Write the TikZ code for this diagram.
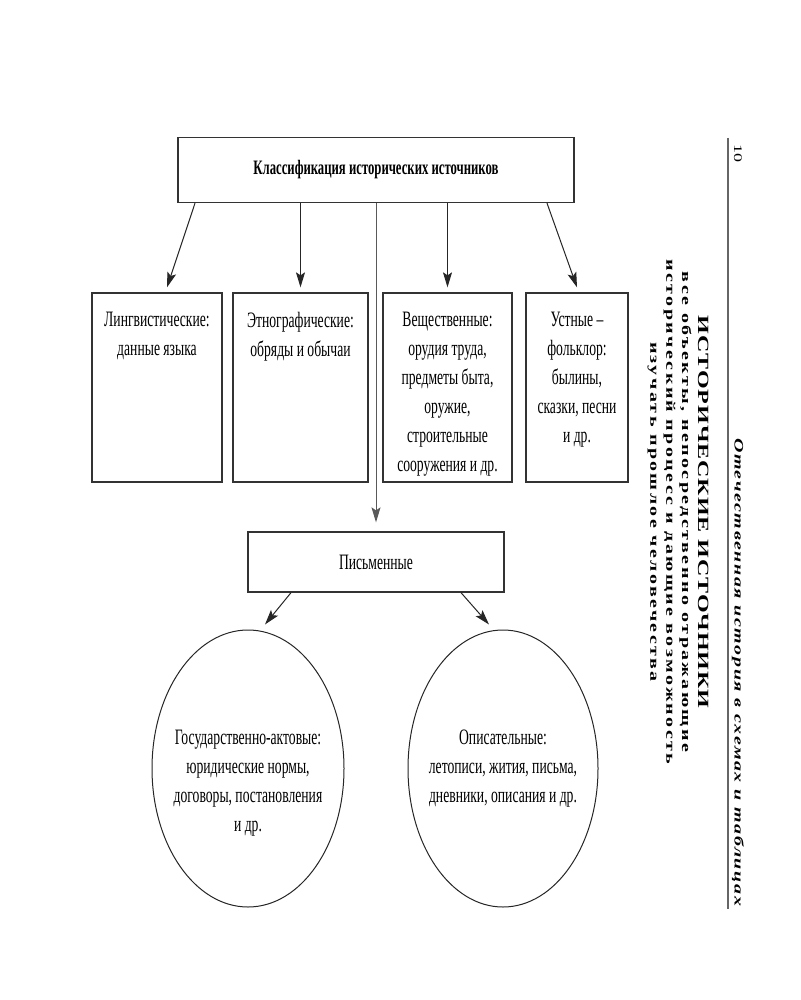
\documentclass[tikz,border=0pt]{standalone}
\usepackage{fontspec}
\setmainfont{Liberation Serif}[FakeStretch=0.62]
\newfontfamily\rotfont{Liberation Serif}
\newfontfamily\spacedfont{Liberation Serif}[LetterSpace=12]
\usetikzlibrary{arrows.meta,positioning,shapes.geometric}

\begin{document}
\begin{tikzpicture}[x=1pt,y=-1pt,>={Stealth[length=15pt,width=9pt,inset=3pt]},
  box/.style={rectangle,draw=black!80,line width=1.3pt,inner sep=0pt},
  src box/.style={box,minimum width=130pt,minimum height=189pt},
  src text/.style={align=center,inner sep=0pt,font=\fontsize{22}{29}\selectfont},
  oval/.style={ellipse,draw=black!85,line width=1pt,inner sep=0pt,
    minimum width=192pt,minimum height=277pt},
  link/.style={->,draw=black!85,line width=1pt},
  turned/.style={rotate=-90,yscale=0.65,inner sep=0pt}]

\fill[white] (0,0) rectangle (800,1000);

% running head of the page
\draw[black!60,line width=1.5pt] (728,138) -- (728,909);
\node[turned,font=\rotfont\fontsize{18}{18}\selectfont] (page) at (738,154) {10};
\node[turned,font=\spacedfont\bfseries\itshape\fontsize{20}{20}\selectfont\addfontfeature{LetterSpace=8}] (series) at (738,672)
  {Отечественная история в схемах и таблицах};
\node[turned,align=center,font=\spacedfont\bfseries\fontsize{20}{24.5}\selectfont] (head) at (678,512)
  {{\fontsize{24}{24.5}\selectfont\addfontfeature{LetterSpace=4}ИСТОРИЧЕСКИЕ ИСТОЧНИКИ}\\
   все объекты, непосредственно отражающие\\
   исторический процесс и дающие возможность\\
   изучать прошлое человечества};

% boxes
\node[box,minimum width=396pt,minimum height=65pt,font=\bfseries\fontsize{20.5}{29}\selectfont]
  (class) at (376,170) {Классификация исторических источников};
\node[src box] (ling) at (157,387.5) {};
\node[src box,minimum width=135pt] (ethno) at (300.5,387.5) {};
\node[src box,minimum width=129pt] (mat) at (447.5,387.5) {};
\node[src box,minimum width=102pt] (oral) at (577,387.5) {};
\node[box,minimum width=256pt,minimum height=60pt,font=\fontsize{22}{29}\selectfont]
  (pism) at (376,562) {Письменные};
\node[oval] (gov) at (248,768.5) {};
\node[oval,minimum width=190pt] (desc) at (503,768.5) {};

\node[src text,below=20pt of ling.north] {Лингвистические:\\данные языка};
\node[src text,below=20pt of ethno.north] {Этнографические:\\обряды и обычаи};
\node[src text,below=20pt of mat.north] {Вещественные:\\орудия труда,\\предметы быта,\\оружие,\\строительные\\сооружения и др.};
\node[src text,below=20pt of oral.north] {Устные --\\фольклор:\\былины,\\сказки, песни\\и др.};
\node[src text,below=100pt of gov.north] {Государственно-актовые:\\юридические нормы,\\договоры, постановления\\и др.};
\node[src text,below=100pt of desc.north] {Описательные:\\летописи, жития, письма,\\дневники, описания и др.};

% arrows
\draw[link] ([xshift=-181pt]class.south) -- ([xshift=10pt,yshift=5pt]ling.north);
\draw[link] (class.south -| ethno.north) -- ([yshift=5pt]ethno.north);
\draw[link] (class.south -| mat.north) -- ([yshift=5pt]mat.north);
\draw[link] ([xshift=171pt]class.south) -- ([yshift=5pt]oral.north);
\draw[link,draw=black!65] (class.south) -- ([yshift=9pt]pism.north);
\draw[link] ([xshift=-85pt]pism.south) -- ([xshift=17pt,yshift=5pt]gov.north);
\draw[link] ([xshift=85pt]pism.south) -- ([xshift=-14pt,yshift=5pt]desc.north);

\end{tikzpicture}
\end{document}
